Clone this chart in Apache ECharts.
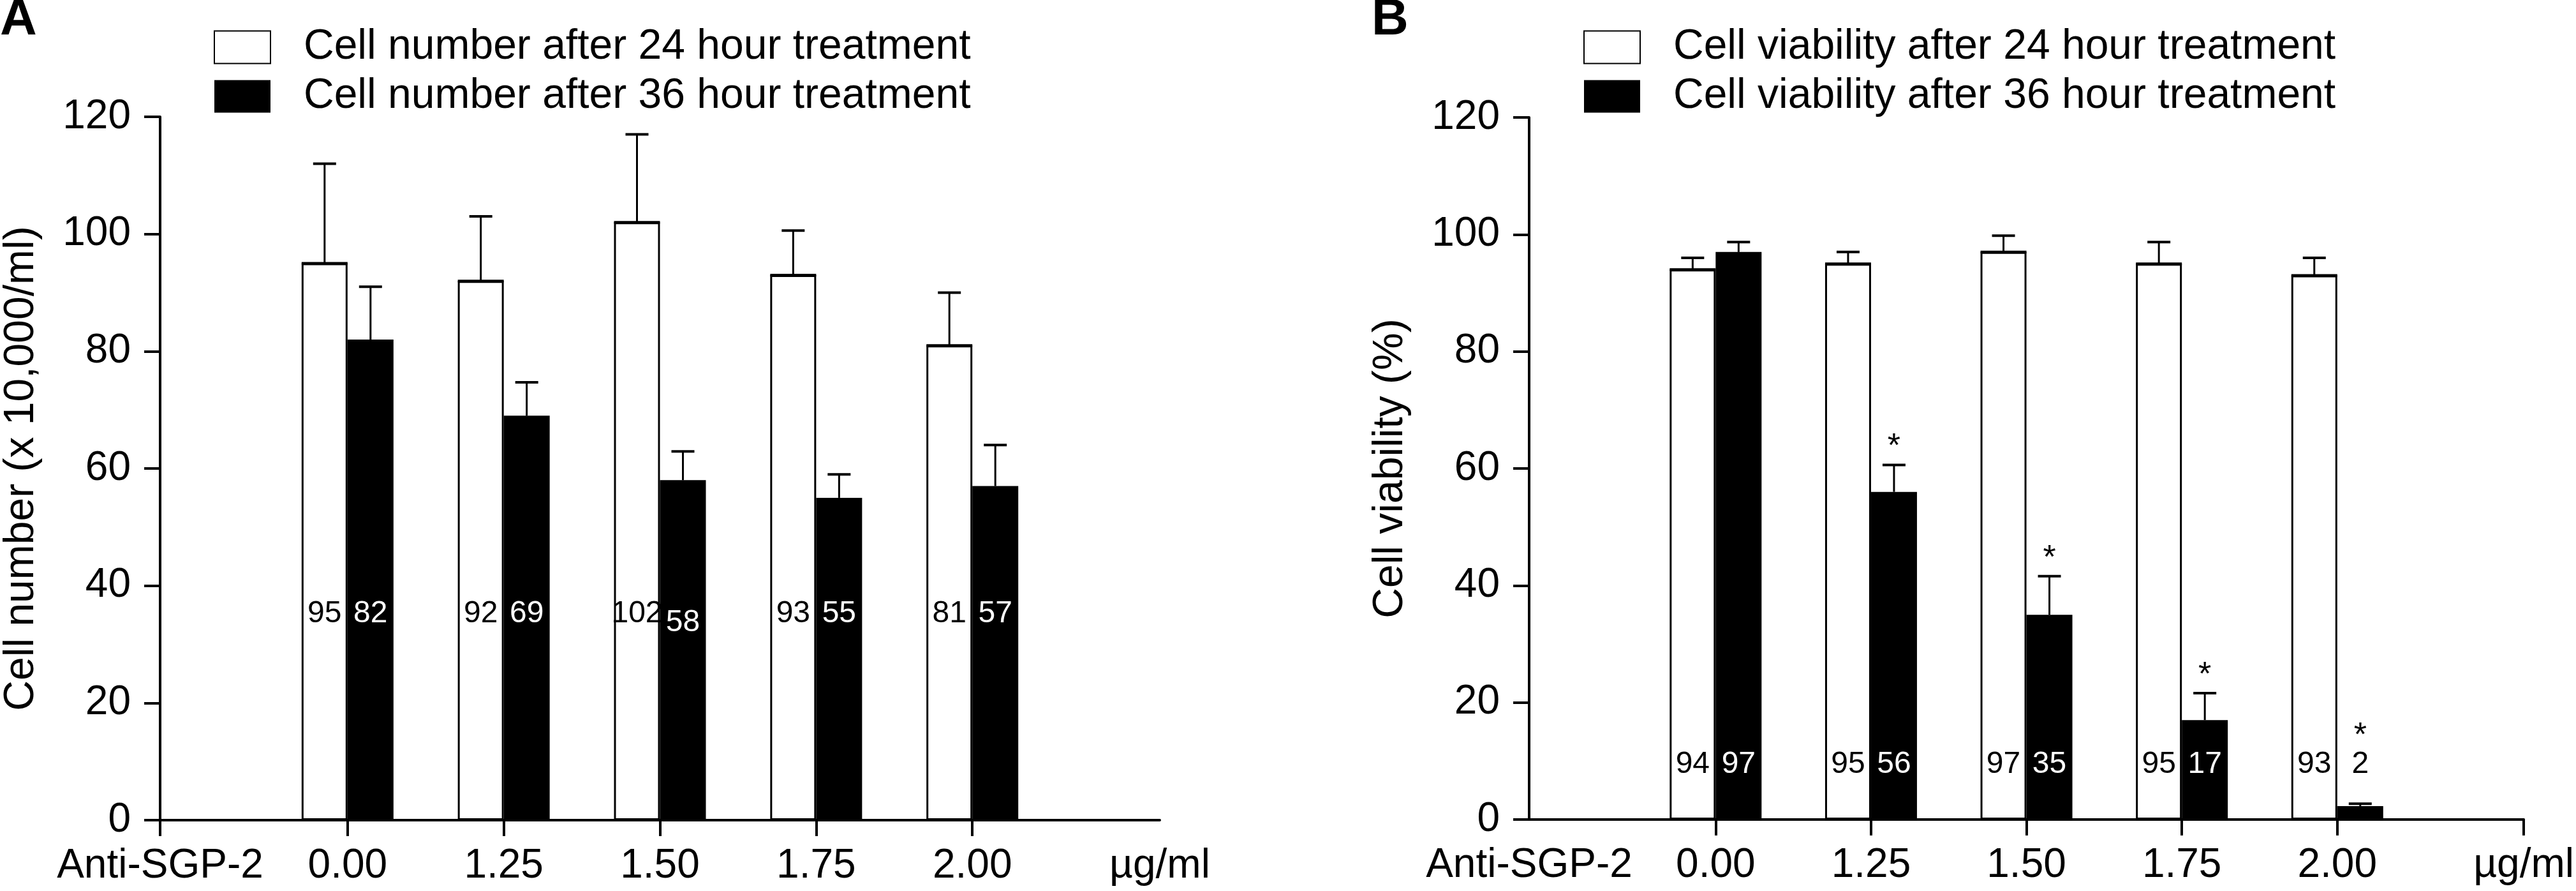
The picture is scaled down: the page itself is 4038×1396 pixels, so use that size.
<!DOCTYPE html>
<html><head><meta charset="utf-8">
<script src="https://cdn.jsdelivr.net/npm/echarts@6/dist/echarts.min.js"></script>
<style>html,body{margin:0;padding:0;background:#fff}#c{width:4038px;height:1396px}</style>
</head><body><div id="c"></div>
<script>
// ---------------- data ----------------
const categories = ['0.00', '1.25', '1.50', '1.75', '2.00'];
const xStartLabel = 'Anti-SGP-2';
const xEndLabel = 'µg/ml';
const yTicks = [0, 20, 40, 60, 80, 100, 120];

const numberNames = ['Cell number after 24 hour treatment', 'Cell number after 36 hour treatment'];
const number24 = [95, 92, 102, 93, 81];
const number24Err = [17, 11, 15, 7.6, 9];
const number36 = [82, 69, 58, 55, 57];
const number36Err = [9, 5.7, 4.9, 4, 7];

const viabNames = ['Cell viability after 24 hour treatment', 'Cell viability after 36 hour treatment'];
const viab24 = [94, 95, 97, 95, 93];
const viab24Err = [2, 2, 2.8, 3.7, 3];
const viab36 = [97, 56, 35, 17, 2.3];
const viab36Err = [1.7, 4.6, 6.6, 4.6, 0.4];
const viab36Significant = [false, true, true, true, true];

const yNameA = 'Cell number (x 10,000/ml)';
const yNameB = 'Cell viability (%)';

// ---------------- style ----------------
const FONT = '"Liberation Sans", Arial, Helvetica, sans-serif';
const BAR_W = 72, CAP = 36;
const X_MIN = -1.2, X_MAX = 5.2;

function barSeries(name, values, idx, dark) {
  return {
    type: 'bar', name, xAxisIndex: idx, yAxisIndex: idx,
    barWidth: BAR_W, barGap: '0%',
    data: values.map((v, i) => [i, v]),
    itemStyle: dark ? { color: '#000', borderColor: '#000', borderWidth: 0 }
                    : { color: '#fff', borderColor: '#000', borderWidth: 3 },
    emphasis: { disabled: true }, silent: true, z: 2
  };
}

function errSeries(idx, means, errs, side, labelLevel, dark, otherMeans, sig) {
  return {
    type: 'custom', xAxisIndex: idx, yAxisIndex: idx, silent: true, z: 5,
    data: means.map((m, i) => [i, m, errs[i], sig && sig[i] ? 1 : 0, otherMeans[i]]),
    encode: { x: 0, y: 1 },
    renderItem(params, api) {
      const x = api.value(0), m = api.value(1), e = api.value(2);
      const p = api.coord([x, m]);
      const cx = p[0] + side * BAR_W / 2;
      const top = api.coord([x, m + e])[1];
      const ch = [];
      ch.push({ type: 'line', shape: { x1: cx, y1: p[1], x2: cx, y2: top }, style: { stroke: '#000', lineWidth: 3 } });
      ch.push({ type: 'line', shape: { x1: cx - CAP / 2, y1: top, x2: cx + CAP / 2, y2: top }, style: { stroke: '#000', lineWidth: 4 } });
      if (!dark) ch.push({ type: 'line', shape: { x1: cx - BAR_W / 2, y1: p[1], x2: cx + BAR_W / 2, y2: p[1] }, style: { stroke: '#000', lineWidth: 4 } });
      const ly = api.coord([x, labelLevel])[1];
      const other = api.value(4);
      let shift = 0;
      if (side > 0 && String(Math.round(other)).length > 2) shift = 14;
      const onBar = m > labelLevel + 3;
      ch.push({ type: 'text', x: cx, y: ly + shift, style: {
        text: String(Math.round(m)), fill: (dark && onBar) ? '#fff' : '#000',
        font: '48px ' + FONT, align: 'center', verticalAlign: 'middle' } });
      if (api.value(3)) {
        const sy = api.coord([x, Math.max(m + e, 11.2) + 4.2])[1];
        ch.push({ type: 'text', x: cx, y: sy + 11, style: {
          text: '*', fill: '#000', font: '52px ' + FONT, align: 'center', verticalAlign: 'middle' } });
      }
      return { type: 'group', children: ch };
    }
  };
}

function xAxis(idx, tickVals) {
  const labelVals = [X_MIN].concat(categories.map((c, i) => i)).concat([X_MAX]);
  return {
    type: 'value', gridIndex: idx, min: X_MIN, max: X_MAX,
    axisLine: { show: true, onZero: false, lineStyle: { color: '#000', width: 4 } },
    axisTick: { show: true, length: 25, lineStyle: { color: '#000', width: 4 }, customValues: tickVals },
    axisLabel: { show: true, margin: 40, fontSize: 64, fontFamily: FONT, color: '#000',
      customValues: labelVals, showMinLabel: true, showMaxLabel: true,
      formatter: v => v === X_MIN ? xStartLabel : (v === X_MAX ? xEndLabel : categories[Math.round(v)]) },
    splitLine: { show: false }
  };
}

function yAxis(idx, name) {
  return {
    type: 'value', gridIndex: idx, min: yTicks[0], max: yTicks[yTicks.length - 1], interval: yTicks[1] - yTicks[0],
    name, nameLocation: 'middle', nameRotate: 90, nameGap: 184,
    nameTextStyle: { fontSize: 66, fontFamily: FONT, color: '#000' },
    axisLine: { show: true, onZero: false, lineStyle: { color: '#000', width: 4 } },
    axisTick: { show: true, length: 25, lineStyle: { color: '#000', width: 4 } },
    axisLabel: { margin: 46, fontSize: 64, fontFamily: FONT, color: '#000' },
    splitLine: { show: false }
  };
}

function legend(names, left) {
  return {
    data: names, left, top: 36, orient: 'vertical', itemWidth: 88, itemHeight: 51, itemGap: 11,
    icon: 'rect', selectedMode: false,
    textStyle: { fontSize: 66, fontFamily: FONT, color: '#000', padding: [0, 0, 0, 47] }
  };
}

const chart = echarts.init(document.getElementById('c'), null, { renderer: 'canvas' });
chart.setOption({
  backgroundColor: '#fff',
  animation: false,
  grid: [
    { left: 250, right: 4038 - 1818, top: 183, bottom: 1396 - 1285 },
    { left: 2397, right: 4038 - 3957, top: 184, bottom: 1396 - 1284 }
  ],
  xAxis: [xAxis(0, [X_MIN, 0, 1, 2, 3, 4]), xAxis(1, [0, 1, 2, 3, 4, X_MAX])],
  yAxis: [yAxis(0, yNameA), yAxis(1, yNameB)],
  legend: [legend(numberNames, 330), legend(viabNames, 2477)],
  graphic: [
    { type: 'text', left: 0, top: -8, style: { text: 'A', font: 'bold 80px ' + FONT, fill: '#000' } },
    { type: 'text', left: 2150, top: -8, style: { text: 'B', font: 'bold 80px ' + FONT, fill: '#000' } }
  ],
  series: [
    barSeries(numberNames[0], number24, 0, false),
    barSeries(numberNames[1], number36, 0, true),
    errSeries(0, number24, number24Err, -1, 35.2, false, number36, null),
    errSeries(0, number36, number36Err, 1, 35.2, true, number24, null),
    barSeries(viabNames[0], viab24, 1, false),
    barSeries(viabNames[1], viab36, 1, true),
    errSeries(1, viab24, viab24Err, -1, 9.4, false, viab36, null),
    errSeries(1, viab36, viab36Err, 1, 9.4, true, viab24, viab36Significant)
  ]
});
</script></body></html>
